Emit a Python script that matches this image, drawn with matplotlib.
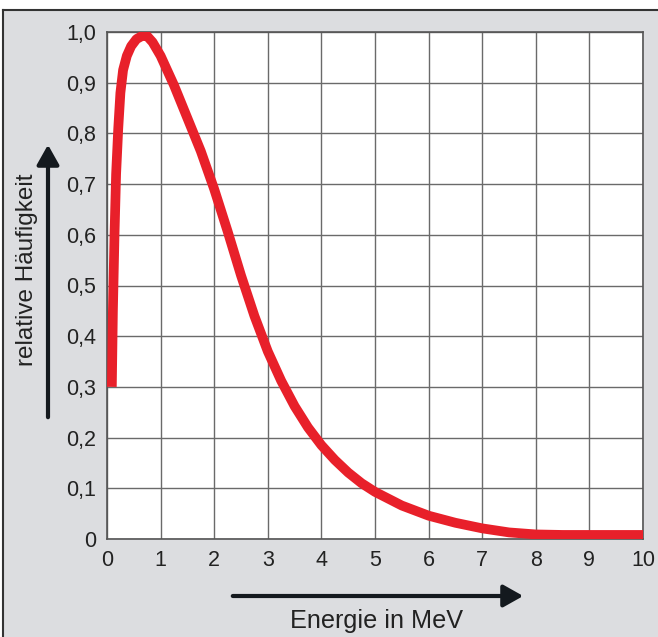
import matplotlib
matplotlib.use("Agg")
import matplotlib.pyplot as plt
from matplotlib.patches import Rectangle, FancyArrowPatch

energy = [0.09, 0.11, 0.14, 0.17, 0.21, 0.25, 0.3, 0.37, 0.45, 0.55, 0.65, 0.74, 0.85, 1.0,
          1.25, 1.5, 1.75, 2.0, 2.25, 2.5, 2.75, 3.0, 3.25, 3.5, 3.75, 4.0, 4.25, 4.5, 4.75, 5.0,
          5.5, 6.0, 6.5, 7.0, 7.5, 8.0, 8.5, 9.0, 10.0]
frequency = [0.30, 0.45, 0.60, 0.72, 0.81, 0.88, 0.925, 0.953, 0.972, 0.986, 0.992, 0.993, 0.98, 0.953,
             0.895, 0.83, 0.765, 0.69, 0.607, 0.52, 0.44, 0.37, 0.312, 0.262, 0.22, 0.185, 0.156, 0.131, 0.11, 0.093,
             0.066, 0.046, 0.032, 0.021, 0.013, 0.009, 0.008, 0.008, 0.008]
x_ticks = list(range(0, 11))
y_ticks = [0.0, 0.1, 0.2, 0.3, 0.4, 0.5, 0.6, 0.7, 0.8, 0.9, 1.0]
y_tick_labels = ["0", "0,1", "0,2", "0,3", "0,4", "0,5", "0,6", "0,7", "0,8", "0,9", "1,0"]
x_label = "Energie in MeV"
y_label = "relative Häufigkeit"

plt.rcParams['font.family'] = ['Liberation Sans', 'DejaVu Sans']
W, H = 658, 637
fig = plt.figure(figsize=(W / 100, H / 100), dpi=100)
fig.patch.set_facecolor("white")
bg = "#dcdde0"
# gray panel with dark border
fig.patches.append(Rectangle((3 / W, 0), 1, 1 - 10 / H, transform=fig.transFigure,
                             facecolor=bg, edgecolor="none", zorder=-5))
fig.lines.append(plt.Line2D([3 / W, 1], [1 - 10 / H, 1 - 10 / H], transform=fig.transFigure,
                            color="#333333", lw=1.5, zorder=-4))
fig.lines.append(plt.Line2D([3 / W, 3 / W], [0, 1 - 10 / H], transform=fig.transFigure,
                            color="#333333", lw=1.5, zorder=-4))

ax = fig.add_axes([107 / W, 1 - 539 / H, (643 - 107) / W, (539 - 32) / H])
ax.set_zorder(1)
ax.set_facecolor("white")
ax.plot(energy, frequency, color="#e8202a", lw=7, solid_capstyle="butt",
        solid_joinstyle="round", zorder=3)
ax.set_xlim(0, 10)
ax.set_ylim(0, 1.0)
ax.set_xticks(x_ticks)
ax.set_xticklabels([str(t) for t in x_ticks])
ax.set_yticks(y_ticks)
ax.set_yticklabels(y_tick_labels)
ax.grid(True, color="#6a6a6a", lw=1.0)
ax.set_axisbelow(True)
for s in ax.spines.values():
    s.set_color("#555555")
    s.set_linewidth(1.2)
ax.tick_params(length=0, labelsize=15.5, colors="#222222", pad=8)

# axis labels and arrows
fig.text(27 / W, 1 - 270 / H, y_label, rotation=90, ha="center", va="center",
         fontsize=17.5, color="#222222")
fig.text(377 / W, 1 - 621 / H, x_label, ha="center", va="center",
         fontsize=18.2, color="#222222")
fig.patches.append(FancyArrowPatch((48 / W, 1 - 420 / H), (48 / W, 1 - 142 / H),
                                   transform=fig.transFigure, arrowstyle="-|>,head_length=8,head_width=4.5",
                                   lw=3, color="#14191e", mutation_scale=1.5))
fig.patches.append(FancyArrowPatch((230 / W, 1 - 596 / H), (526 / W, 1 - 596 / H),
                                   transform=fig.transFigure, arrowstyle="-|>,head_length=8,head_width=4.5",
                                   lw=3, color="#14191e", mutation_scale=1.5))

fig.savefig("out.png", dpi=100)
